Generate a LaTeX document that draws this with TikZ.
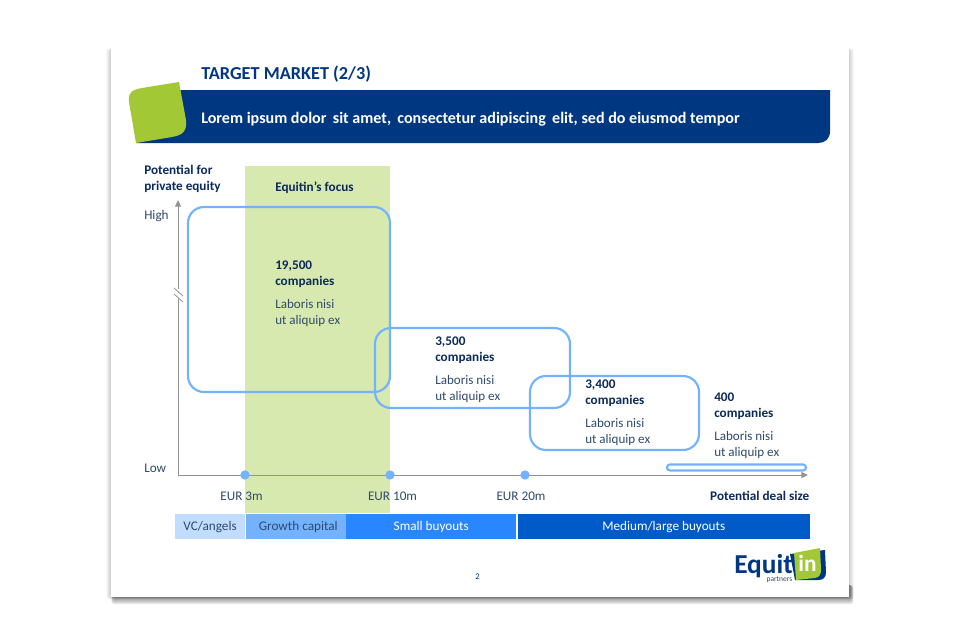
\documentclass[tikz,border=0pt]{standalone}
\usepackage{fontspec}
\setmainfont{Carlito}
\usetikzlibrary{arrows.meta}
\definecolor{navy}{HTML}{003781}
\definecolor{darktxt}{HTML}{0B2A5B}
\definecolor{bodytxt}{HTML}{2F4A6D}
\definecolor{leaf}{HTML}{A2C836}
\definecolor{focus}{HTML}{D8E9B0}
\definecolor{sky}{HTML}{73B2FF}
\definecolor{axisgray}{HTML}{939393}
\tikzset{
  x=0.75pt,y=-0.75pt,
  bubble/.style={draw=sky,line width=1.6pt,rounded corners=12pt},
  lab/.style={font=\fontsize{9.9pt}{11.8pt}\selectfont,text=bodytxt,inner sep=0pt},
  blab/.style={font=\fontsize{9.9pt}{12pt}\selectfont\bfseries,text=darktxt,inner sep=0pt,align=left},
  para/.style={font=\fontsize{9.8pt}{12pt}\selectfont,text=bodytxt,inner sep=0pt,align=left},
  seg/.style={minimum height=18.7pt,inner sep=0pt,anchor=north west,font=\fontsize{9.9pt}{11pt}\selectfont},
  tick/.style={circle,fill=sky,minimum size=7pt,inner sep=0pt},
  axisline/.style={draw=axisgray,line width=0.7pt,-{Triangle[length=5pt,width=4.5pt]}}
}
\begin{document}
\begin{tikzpicture}
\useasboundingbox (0,0) rectangle (960,640);
\fill[white] (0,0) rectangle (960,640);
% slide shadow
\foreach \i in {0,...,8}{
  \fill[black,opacity=0.022,rounded corners=2pt] (111-\i*0.6,50-\i*0.2) rectangle (849+\i*0.6,597+\i*0.3);
}
\foreach \i in {0,...,8}{
  \fill[black,opacity=0.055,rounded corners=2pt] (113-\i*0.2,585) rectangle (851+\i*0.3,598+\i*0.8);
}
\fill[white] (111,48) rectangle (849,597);
% banner
\fill[navy] (150,90) -- (830,90) -- (830,131) .. controls (830,139) and (825,143) .. (818,143) -- (136,143) -- cycle;
\fill[leaf] (179,82) -- (142,88) .. controls (132,90) and (128,92) .. (129,102) -- (136,143) -- (172,137) .. controls (184,135) and (187,130) .. (186,120) -- cycle;
\node[anchor=west,inner sep=0pt,text=navy,font=\fontsize{13.7pt}{14pt}\selectfont\bfseries] (title) at (201,74) {TARGET MARKET (2/3)};
\node[anchor=west,inner sep=0pt,text=white,font=\fontsize{12.05pt}{13pt}\selectfont\bfseries] (sub) at (201,119) {Lorem ipsum dolor\, sit amet,\, consectetur adipiscing\, elit, sed do eiusmod tempor};
% focus band
\fill[focus] (245,166) rectangle (390,513);
% axes
\coordinate (origin) at (178,475);
\coordinate (ytop) at (178,200);
\coordinate (xend) at (808,475);
\draw[axisline] (origin) -- (ytop);
\draw[axisline] (origin) -- (xend);
\fill[white] (175,289) rectangle (181,299);
\draw[axisgray,line width=0.6pt] (174,288) -- (183,296);
\draw[axisgray,line width=0.6pt] (174,294) -- (183,302);
\node[tick] (t3) at (245,475) {};
\node[tick] (t10) at (390,475) {};
\node[tick] (t20) at (525,475) {};
% bubbles
\draw[bubble] (188,207) rectangle (390,392);
\draw[bubble] (375,328) rectangle (570,408);
\draw[bubble] (530,376) rectangle (699,450);
\draw[bubble,rounded corners=2.2pt] (667,464.5) rectangle (806,470.5);
% axis labels
\node[blab,anchor=north west] (ylab) at (144,165) {Potential for\\private equity};
\node[lab,anchor=west] (high) at (144,216) {High};
\node[lab,anchor=west] (low) at (144,468) {Low};
\node[blab,anchor=west] (foc) at (275,188) {Equitin’s focus};
\node[lab] (e3) at (241.5,496) {EUR 3m};
\node[lab] (e10) at (392.5,496) {EUR 10m};
\node[lab] (e20) at (521,496) {EUR 20m};
\node[blab,anchor=east] (xlab) at (809.5,496) {Potential deal size};
% bubble texts
\node[blab,anchor=north west] (a1) at (275,261) {19,500\\companies};
\node[para,anchor=north west] (a2) at (275,299.5) {Laboris nisi\\ut aliquip ex};
\node[blab,anchor=north west] (b1) at (435,336.5) {3,500\\companies};
\node[para,anchor=north west] (b2) at (435,375) {Laboris nisi\\ut aliquip ex};
\node[blab,anchor=north west] (c1) at (585,380) {3,400\\companies};
\node[para,anchor=north west] (c2) at (585,418) {Laboris nisi\\ut aliquip ex};
\node[blab,anchor=north west] (d1) at (714,392.5) {400\\companies};
\node[para,anchor=north west] (d2) at (714,431) {Laboris nisi\\ut aliquip ex};
% segments
\node[seg,fill=sky!45!white,text=bodytxt,minimum width=52.2pt] (s1) at (175,514) {VC/angels};
\node[seg,fill=sky,text=bodytxt,minimum width=75pt] (s2) at (246,514) {\hspace*{3pt}Growth capital};
\node[seg,fill={rgb,255:red,41;green,134;blue,255},text=white,minimum width=127.5pt] (s3) at (346,514) {Small buyouts};
\node[seg,fill={rgb,255:red,0;green,91;blue,200},text=white,minimum width=219pt] (s4) at (517.5,514) {Medium/large buyouts};
% page number
\node[inner sep=0pt,text=navy,font=\fontsize{6.5pt}{8pt}\selectfont] (pg) at (477.5,577) {2};
% logo
\fill[navy] (790,554) -- (825,550) -- (826,572) .. controls (826,578) and (823,580) .. (818,580) -- (795,580) -- cycle;
\fill[leaf] (794,553) -- (820,548) -- (821,569) .. controls (821,574) and (820,577) .. (815,578) -- (796,580) -- cycle;
\node[inner sep=0pt,text=white,font=\fontsize{17.5pt}{17pt}\selectfont\bfseries] (in) at (807.5,563.5) {in};
\node[anchor=east,inner sep=0pt,text=navy,font=\fontsize{20.5pt}{20pt}\selectfont\bfseries] (eq) at (793,566) {Equit};
\node[anchor=east,inner sep=0pt,text=bodytxt,font=\fontsize{5.6pt}{6pt}\selectfont] (pt) at (792.5,579.5) {partners};
\end{tikzpicture}
\end{document}
